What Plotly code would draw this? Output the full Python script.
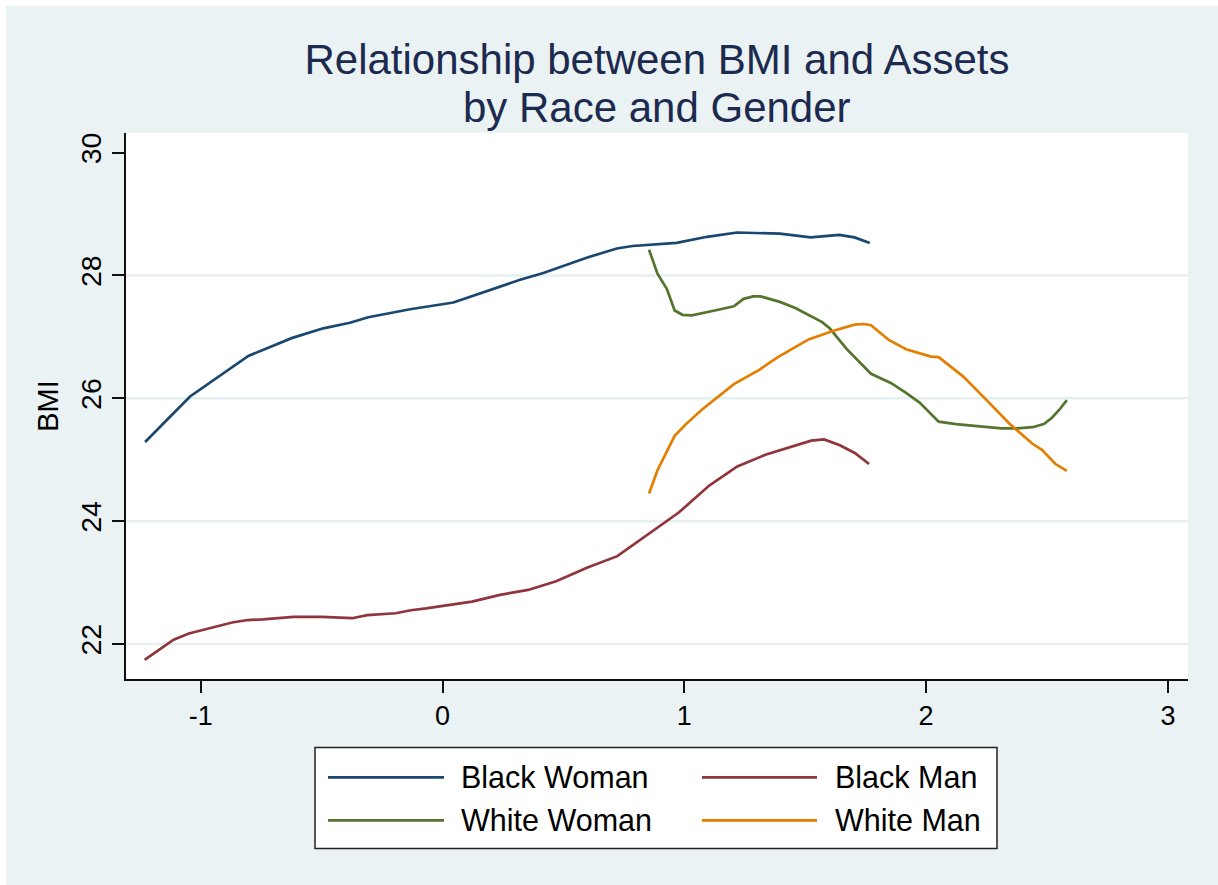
import plotly.graph_objects as go

# ---------------- data ----------------
bw_x = [-1.230, -1.044, -0.803, -0.624, -0.493, -0.383, -0.307, -0.134, 0.045, 0.114,
        0.321, 0.417, 0.596, 0.721, 0.786, 0.968, 1.094, 1.218, 1.395, 1.522, 1.641,
        1.704, 1.767]
bw_y = [25.29, 26.03, 26.69, 26.98, 27.14, 27.23, 27.32, 27.45, 27.56, 27.65,
        27.93, 28.04, 28.29, 28.44, 28.48, 28.53, 28.63, 28.70, 28.68, 28.62, 28.66,
        28.62, 28.53]

bm_x = [-1.232, -1.112, -1.049, -0.870, -0.806, -0.743, -0.616, -0.500, -0.374, -0.311,
        -0.194, -0.131, -0.068, 0.122, 0.238, 0.354, 0.470, 0.597, 0.723, 0.850,
        0.977, 1.103, 1.219, 1.335, 1.452, 1.525, 1.578, 1.641, 1.705, 1.764]
bm_y = [21.74, 22.07, 22.17, 22.35, 22.39, 22.40, 22.44, 22.44, 22.42, 22.47,
        22.50, 22.55, 22.58, 22.69, 22.80, 22.88, 23.02, 23.24, 23.43, 23.79,
        24.14, 24.58, 24.89, 25.08, 25.22, 25.31, 25.33, 25.24, 25.11, 24.93]

ww_x = [0.854, 0.889, 0.928, 0.960, 0.992, 1.031, 1.126, 1.205, 1.245, 1.285, 1.316,
        1.395, 1.459, 1.522, 1.570, 1.601, 1.672, 1.772, 1.854, 1.917, 1.973, 2.052,
        2.123, 2.234, 2.313, 2.376, 2.440, 2.487, 2.519, 2.550, 2.582]
ww_y = [28.42, 28.03, 27.78, 27.43, 27.36, 27.35, 27.43, 27.50, 27.62, 27.66, 27.66,
        27.57, 27.47, 27.34, 27.24, 27.14, 26.80, 26.40, 26.25, 26.09, 25.93, 25.62,
        25.58, 25.54, 25.51, 25.51, 25.53, 25.58, 25.68, 25.81, 25.97]

wm_x = [0.854, 0.889, 0.960, 1.007, 1.071, 1.205, 1.308, 1.387, 1.514, 1.617, 1.704,
        1.743, 1.772, 1.846, 1.917, 2.020, 2.052, 2.155, 2.250, 2.344, 2.440, 2.479,
        2.535, 2.582]
wm_y = [24.45, 24.83, 25.39, 25.58, 25.81, 26.23, 26.46, 26.67, 26.96, 27.10, 27.20,
        27.21, 27.19, 26.95, 26.80, 26.68, 26.67, 26.35, 25.97, 25.59, 25.26, 25.16,
        24.93, 24.82]

series_names = ["Black Woman", "Black Man", "White Woman", "White Man"]
series_colors = ["#1A476F", "#90353B", "#55752F", "#E37E00"]

x_ticks = [-1, 0, 1, 2, 3]
y_ticks = [22, 24, 26, 28, 30]
grid_vals = [22, 24, 26, 28]

title_line1 = "Relationship between BMI and Assets"
title_line2 = "by Race and Gender"
y_title = "BMI"

FONT = "Liberation Sans, Arial, Helvetica, sans-serif"
BG = "#EAF2F3"
TITLE_COLOR = "#1C2A4F"

fig = go.Figure()
for name, xs, ys, col in zip(series_names, [bw_x, bm_x, ww_x, wm_x],
                             [bw_y, bm_y, ww_y, wm_y], series_colors):
    fig.add_trace(go.Scatter(x=xs, y=ys, mode="lines", name=name,
                             line=dict(color=col, width=2.7), showlegend=False))

shapes = []
# horizontal grid lines (Stata omits the top one)
for g in grid_vals:
    shapes.append(dict(type="line", xref="paper", yref="y", x0=0, x1=1, y0=g, y1=g,
                       line=dict(color="#E6EFF1", width=2.5), layer="below"))
# white margins at top/left of the graph region
shapes.append(dict(type="rect", xref="paper", yref="paper", x0=-0.2, x1=-120/1062,
                   y0=-0.5, y1=1.5, fillcolor="white", line=dict(width=0), layer="below"))
shapes.append(dict(type="rect", xref="paper", yref="paper", x0=-0.2, x1=1.2,
                   y0=(678.7 - 6) / 545.4, y1=2, fillcolor="white", line=dict(width=0),
                   layer="below"))

# ---------- custom legend (Stata style, long line keys) ----------
def px2x(px):
    return (px - 126) / 1062

def px2y(py):
    return (678.7 - py) / 545.4

shapes.append(dict(type="rect", xref="paper", yref="paper",
                   x0=px2x(315), x1=px2x(997), y0=px2y(848), y1=px2y(747),
                   fillcolor="white", line=dict(color="#222222", width=1.5)))
annotations = []
rows_y = [777, 820]
cols = [(328, 444, 461), (702, 817, 835)]
order = [(0, 0), (1, 0), (0, 1), (1, 1)]  # (col,row) for each series
for (c, r), name, col in zip(order, series_names, series_colors):
    lx0, lx1, tx = cols[c]
    yy = px2y(rows_y[r])
    shapes.append(dict(type="line", xref="paper", yref="paper", x0=px2x(lx0),
                       x1=px2x(lx1), y0=yy, y1=yy, line=dict(color=col, width=2.7)))
    annotations.append(dict(text=name, xref="paper", yref="paper", x=px2x(tx) - 0.002,
                            y=yy, xanchor="left", yanchor="middle", showarrow=False,
                            font=dict(family=FONT, size=30.5, color="black")))

annotations.append(dict(text=title_line2, xref="paper", yref="paper", x=px2x(657),
                        y=px2y(107.5), xanchor="center", yanchor="middle", showarrow=False,
                        font=dict(family=FONT, size=42, color=TITLE_COLOR)))

fig.update_layout(
    width=1218, height=885,
    margin=dict(l=126, r=30, t=133, b=206, pad=0),
    paper_bgcolor=BG, plot_bgcolor="white",
    title=dict(text=title_line1, x=657 / 1218, xanchor="center", y=1 - 59 / 885,
               yanchor="middle", font=dict(family=FONT, size=42, color=TITLE_COLOR)),
    font=dict(family=FONT, color="black"),
    showlegend=False,
    shapes=shapes, annotations=annotations,
    xaxis=dict(range=[-1.309, 3.083], tickvals=x_ticks, ticktext=[str(v) for v in x_ticks],
               showgrid=False, zeroline=False, showline=True, linecolor="#111111",
               linewidth=1.5, ticks="outside", ticklen=12, tickwidth=1.5,
               tickcolor="#111111", tickfont=dict(family=FONT, size=27, color="black")),
    yaxis=dict(range=[21.43, 30.32], tickvals=y_ticks, ticktext=[str(v) for v in y_ticks],
               showgrid=False, zeroline=False, showline=True, linecolor="#111111",
               linewidth=1.5, ticks="outside", ticklen=12, tickwidth=1.5,
               tickcolor="#111111", tickangle=-90,
               tickfont=dict(family=FONT, size=28.5, color="black"),
               title=dict(text=y_title, font=dict(family=FONT, size=29, color="black"),
                          standoff=8)),
)

fig.write_html("out.html")
